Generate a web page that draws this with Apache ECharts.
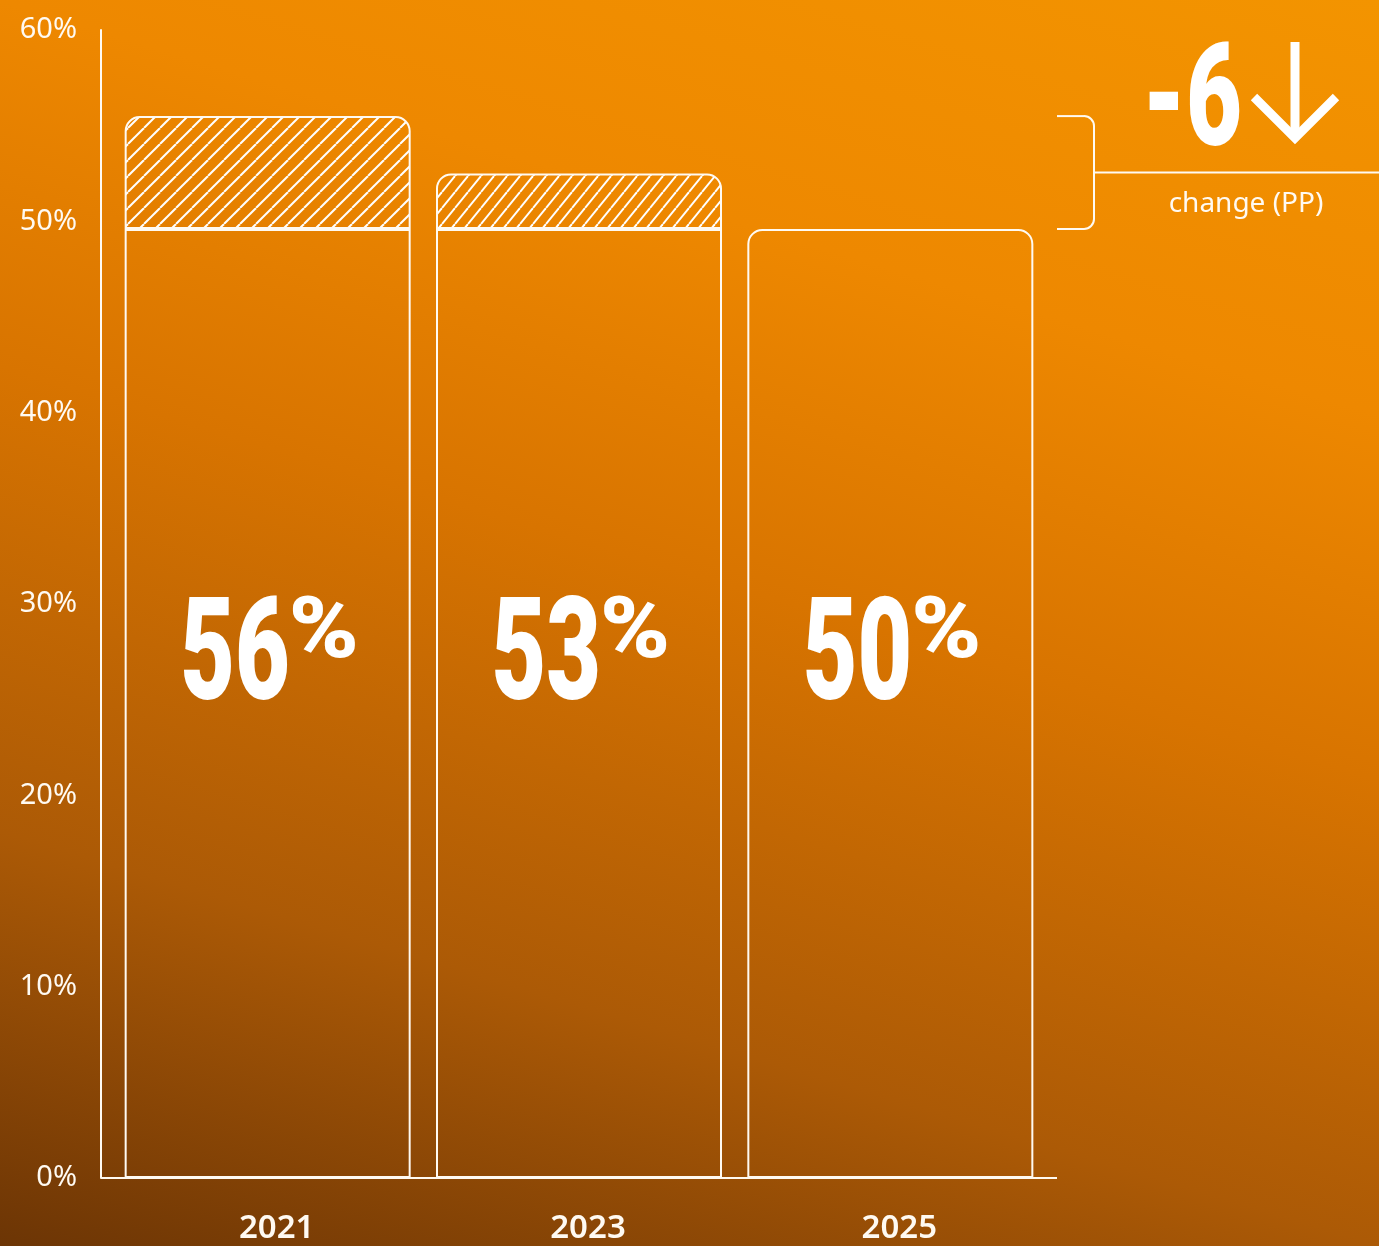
<!DOCTYPE html>
<html>
<head>
<meta charset="utf-8">
<script src="https://cdn.jsdelivr.net/npm/echarts@6/dist/echarts.min.js"></script>
<style>
  html, body { margin: 0; padding: 0; }
  #chart {
    width: 1379px;
    height: 1246px;
    background: linear-gradient(196.7deg, #f39400 0%, #ee8800 25%, #d87400 47%, #ac5a06 75%, #6c3505 100%);
  }
</style>
</head>
<body>
<div id="chart"></div>
<script>
var years = ["2021", "2023", "2025"];
var shares = [55.5, 52.5, 49.6];
var yMin = 0, yMax = 60, yStep = 10;

var bigFont = '"Roboto", "Liberation Sans", sans-serif';
var textFont = '"Noto Sans", "Open Sans", sans-serif';
var ink = "#fffaf2";

// the latest year is the base, anything above it is hatched
var latest = shares[shares.length - 1];
var baseData = shares.map(function (v, i) {
  return {
    value: Math.min(v, latest),
    itemStyle: { borderRadius: i === shares.length - 1 ? [14, 14, 0, 0] : 0 }
  };
});

// hatch pattern tile
function hatch(step, h) {
  var c = document.createElement("canvas");
  c.width = step;
  c.height = h;
  var ctx = c.getContext("2d");
  ctx.strokeStyle = "#ffffff";
  ctx.lineWidth = 2;
  for (var k = -1; k <= 1; k++) {
    ctx.beginPath();
    ctx.moveTo(k * step, h);
    ctx.lineTo(k * step + step, 0);
    ctx.stroke();
  }
  return c;
}
var hatchTiles = [hatch(16, 16), hatch(13, 16), hatch(16, 16)];

var extraData = shares.map(function (v, i) {
  var d = +(v - latest).toFixed(1);
  if (d <= 0) return null;
  return {
    value: d,
    itemStyle: { color: { image: hatchTiles[i], repeat: "repeat" } }
  };
});

var chart = echarts.init(document.getElementById("chart"), null, { renderer: "canvas" });

chart.setOption({
  animation: false,
  grid: { left: 112, right: 333, top: 30, bottom: 68 },
  xAxis: {
    type: "category",
    data: years,
    axisLine: { show: false },
    axisTick: { show: false },
    axisLabel: {
      color: ink,
      fontFamily: textFont,
      fontWeight: 600,
      fontSize: 33,
      margin: 34,
      padding: [0, 0, 0, 18]
    }
  },
  yAxis: {
    type: "value",
    min: yMin,
    max: yMax,
    interval: yStep,
    offset: 11,
    splitLine: { show: false },
    axisTick: { show: false },
    axisLine: { show: true, lineStyle: { color: ink, width: 2 } },
    axisLabel: {
      color: ink,
      fontFamily: textFont,
      fontSize: 29,
      margin: 24,
      formatter: "{value}%"
    }
  },
  series: [
    {
      name: "base",
      type: "bar",
      stack: "share",
      barWidth: 286,
      silent: true,
      itemStyle: { color: "rgba(0,0,0,0)", borderColor: ink, borderWidth: 2 },
      data: baseData
    },
    {
      name: "extra",
      type: "bar",
      stack: "share",
      barWidth: 286,
      silent: true,
      itemStyle: { borderColor: ink, borderWidth: 2, borderRadius: [14, 14, 0, 0] },
      data: extraData
    }
  ]
});

// value labels, baseline, bracket and change annotation
var y0 = chart.convertToPixel({ yAxisIndex: 0 }, 0);
var yTop = chart.convertToPixel({ yAxisIndex: 0 }, shares[0]);
var yLow = chart.convertToPixel({ yAxisIndex: 0 }, latest);
var yMid = (yTop + yLow) / 2;
var xEnd = 1057, xBr = 1094, r = 10;
var change = Math.round(latest - shares[0]);
var lineStyle = { stroke: ink, lineWidth: 2, fill: null };

var graphics = [
  { type: "line", shape: { x1: 101, y1: y0, x2: xEnd, y2: y0 }, style: lineStyle },
  { type: "line", shape: { x1: xEnd, y1: yTop, x2: xBr - r, y2: yTop }, style: lineStyle },
  { type: "arc", shape: { cx: xBr - r, cy: yTop + r, r: r, startAngle: -Math.PI / 2, endAngle: 0 }, style: lineStyle },
  { type: "line", shape: { x1: xBr, y1: yTop + r, x2: xBr, y2: yLow - r }, style: lineStyle },
  { type: "arc", shape: { cx: xBr - r, cy: yLow - r, r: r, startAngle: 0, endAngle: Math.PI / 2 }, style: lineStyle },
  { type: "line", shape: { x1: xEnd, y1: yLow, x2: xBr - r, y2: yLow }, style: lineStyle },
  { type: "line", shape: { x1: xBr, y1: yMid, x2: 1379, y2: yMid }, style: lineStyle },
  {
    type: "text",
    x: 1242, y: 109,
    scaleX: 0.68,
    style: {
      text: String(change),
      fill: "#fff",
      font: "900 142px " + bigFont,
      textAlign: "right",
      textVerticalAlign: "middle"
    }
  },
  { type: "polyline", shape: { points: [[1295, 42], [1295, 134]] }, style: { stroke: "#fff", lineWidth: 9, fill: null } },
  { type: "polyline", shape: { points: [[1254, 97], [1295, 138], [1336, 97]] }, style: { stroke: "#fff", lineWidth: 9, fill: null, lineJoin: "miter" } },
  {
    type: "text",
    x: 1246, y: 204,
    style: {
      text: "change (PP)",
      fill: ink,
      font: "28px " + textFont,
      textAlign: "center",
      textVerticalAlign: "middle"
    }
  }
];

// big "56%" style labels, centred on each bar
shares.forEach(function (v, i) {
  var p = chart.convertToPixel({ seriesIndex: 0 }, [i, Math.min(v, latest) / 2]);
  var cx = p[0], m = p[1];
  graphics.push({
    type: "text",
    x: cx + 22, y: m - 40,
    scaleX: 0.665,
    style: {
      text: String(Math.round(v)),
      fill: "#fff",
      font: "900 142px " + bigFont,
      textAlign: "right",
      textVerticalAlign: "middle"
    }
  });
  graphics.push({
    type: "text",
    x: cx + 21, y: m - 68,
    scaleX: 1.1,
    style: {
      text: "%",
      fill: "#fff",
      font: "900 86px " + bigFont,
      textAlign: "left",
      textVerticalAlign: "middle"
    }
  });
});

chart.setOption({ graphic: graphics });
</script>
</body>
</html>
